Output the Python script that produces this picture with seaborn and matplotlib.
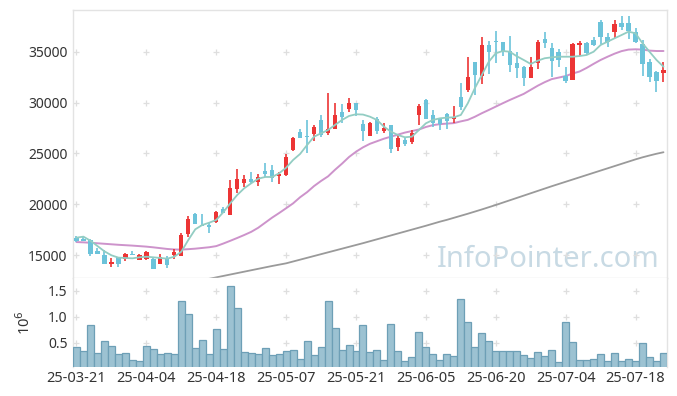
import numpy as np
import pandas as pd
import matplotlib
matplotlib.use("Agg")
import matplotlib.pyplot as plt
import seaborn as sns

# trading days 25-03-21 .. 25-07-24 (KRX holidays removed)
holidays = ["2025-05-01", "2025-05-05", "2025-05-06", "2025-06-03", "2025-06-06"]
dates = [d for d in pd.bdate_range("2025-03-21", "2025-07-24") if d.strftime("%Y-%m-%d") not in holidays]

opens = [16730, 16630, 16500, 15420, 15000, 14175, 14800, 14670, 15130, 14570,
         14670, 14670, 14175, 14670, 15030, 14960, 17120, 19050, 17980, 17950,
         18300, 19550, 18990, 21540, 22130, 22490, 22230, 23310, 23380, 22790,
         22880, 25370, 27110, 26720, 26940, 28290, 27040, 27430, 29070, 29370,
         29990, 27920, 26750, 28380, 27240, 27770, 25660, 26320, 26150, 28800,
         30250, 28750, 28410, 28850, 28410, 30560, 31230, 33980, 32640, 35680,
         36080, 35920, 35030, 33880, 33490, 32440, 33850, 36240, 35360, 34960,
         32640, 32250, 35680, 35850, 36140, 37910, 36440, 36900, 37780, 37780,
         36900, 35750, 33980, 33000, 32930]
highs = [16895, 16925, 16600, 15690, 15490, 14705, 14820, 15255, 15420, 15130,
         15420, 14800, 15160, 14900, 15620, 17220, 18860, 19180, 19050, 18140,
         19350, 19770, 22390, 23450, 22890, 23150, 22950, 24060, 23900, 23150,
         24950, 26650, 27370, 28290, 27800, 28800, 30910, 29930, 29860, 30420,
         30000, 28260, 28050, 28610, 28030, 27800, 26820, 26580, 27340, 29860,
         30350, 29270, 28450, 28950, 29660, 31920, 34440, 34000, 36410, 36000,
         37030, 35950, 36540, 34960, 33550, 34500, 36140, 36900, 35820, 35300,
         33520, 35880, 36040, 35900, 36470, 38110, 36800, 38110, 38500, 38500,
         37300, 36100, 34300, 33050, 33950]
lows = [16335, 16430, 14930, 15100, 14170, 13820, 13880, 14470, 14990, 14500,
        14570, 13680, 14170, 13780, 14670, 14950, 16800, 18050, 17880, 17160,
        18200, 19150, 18950, 21090, 21750, 22000, 21850, 22720, 22200, 22030,
        22800, 25250, 26500, 25080, 26200, 26650, 26810, 27400, 28020, 29100,
        28680, 26250, 26700, 26880, 26970, 25020, 25220, 25730, 25900, 27830,
        28400, 27570, 27300, 27400, 27960, 29270, 31010, 30710, 31790, 32800,
        33850, 34540, 32970, 32380, 31630, 32400, 33300, 35330, 32510, 33520,
        31890, 32200, 34570, 34670, 35600, 35750, 35500, 36310, 37140, 36240,
        35800, 32610, 31990, 31010, 31990]
closes = [16430, 16430, 15130, 15160, 14180, 14340, 14175, 15130, 15000, 15000,
          15320, 13690, 14800, 14050, 15320, 16960, 18560, 18100, 17880, 17750,
          19250, 19180, 21610, 22490, 22490, 22230, 22660, 22980, 22620, 22980,
          24650, 26520, 26550, 26620, 27600, 26810, 27400, 28800, 28580, 29960,
          29300, 27200, 28000, 27240, 27500, 25470, 26520, 25960, 27010, 29660,
          28410, 28020, 27920, 28220, 28540, 29560, 32510, 32700, 35650, 34960,
          35950, 34940, 33720, 33420, 32440, 33490, 35950, 35850, 34110, 34170,
          32150, 35750, 35850, 34900, 35680, 36410, 35920, 37720, 37450, 37030,
          35980, 33760, 32540, 32150, 33160]

# volume in millions
volume = [0.42, 0.34, 0.84, 0.30, 0.53, 0.44, 0.28, 0.30, 0.17, 0.15,
          0.44, 0.38, 0.28, 0.30, 0.28, 1.30, 1.05, 0.40, 0.55, 0.28,
          0.76, 0.38, 1.59, 1.17, 0.32, 0.30, 0.28, 0.40, 0.26, 0.28,
          0.34, 0.36, 0.19, 0.53, 0.26, 0.42, 1.30, 0.78, 0.365, 0.455,
          0.346, 0.846, 0.327, 0.365, 0.173, 0.865, 0.346, 0.154, 0.224, 0.71,
          0.417, 0.28, 0.173, 0.28, 0.25, 1.34, 0.897, 0.417, 0.686, 0.53,
          0.346, 0.346, 0.346, 0.346, 0.263, 0.205, 0.327, 0.25, 0.365, 0.128,
          0.897, 0.52, 0.173, 0.173, 0.186, 0.28, 0.154, 0.31, 0.154, 0.186,
          0.154, 0.50, 0.224, 0.154, 0.31]

ma5 = [16730, 16830, 16430, 15910, 15390, 15000, 14770, 14735, 14700, 14800,
       14860, 14800, 14735, 14670, 14860, 15350, 16500, 17550, 17975, 18200,
       18470, 19220, 20100, 20920, 21580, 22070, 22520, 22690, 22690, 23050,
       23600, 24360, 24950, 25830, 26650, 26980, 27300, 27800, 28290, 28680,
       28850, 28820, 28610, 28290, 27630, 27140, 26810, 26590, 26650, 27300,
       27960, 28290, 28450, 28520, 28550, 28780, 29930, 31400, 32700, 34010,
       34840, 35060, 34990, 34550, 34180, 33790, 34110, 34350, 34440, 34500,
       34500, 34500, 34570, 34670, 34990, 35650, 35980, 36310, 36630, 36960,
       36800, 35820, 34990, 34180, 33520]
ma20 = [16300, 16270, 16230, 16180, 16130, 16080, 16030, 15990, 15950, 15900,
        15850, 15780, 15700, 15620, 15570, 15560, 15600, 15650, 15720, 15790,
        15900, 16150, 16420, 16700, 16990, 17300, 17700, 18200, 18700, 19150,
        19620, 20100, 20700, 21200, 21800, 22300, 22750, 23400, 24000, 24650,
        25170, 25600, 25950, 26200, 26450, 26650, 26850, 27050, 27200, 27350,
        27600, 27780, 27880, 27930, 27980, 28150, 28300, 28600, 28950, 29270,
        29600, 29930, 30250, 30550, 30850, 31250, 31650, 32000, 32300, 32450,
        32600, 32850, 33050, 33400, 33800, 34180, 34500, 34800, 35050, 35200,
        35230, 35200, 35100, 35060, 35060]
ma120 = [None] * 18 + [
        12550, 12690, 12830, 12970, 13110, 13250, 13390, 13530, 13670, 13810,
        13950, 14080, 14210, 14390, 14570, 14750, 14930, 15110, 15290, 15470,
        15650, 15830, 16010, 16190, 16380, 16570, 16760, 16950, 17140, 17330,
        17520, 17710, 17900, 18100, 18300, 18480, 18680, 18880, 19080, 19290,
        19500, 19720, 19940, 20170, 20400, 20630, 20860, 21090, 21320, 21550,
        21780, 22000, 22220, 22440, 22660, 22880, 23100, 23320, 23540, 23760,
        23980, 24200, 24420, 24620, 24800, 24970, 25120]

df = pd.DataFrame({"date": dates, "open": opens, "high": highs, "low": lows,
                   "close": closes, "volume": volume,
                   "ma5": ma5, "ma20": ma20, "ma120": pd.array(ma120, dtype="Float64").astype(float)})
df["idx"] = np.arange(len(df))

sns.set_theme(style="white")
plt.rcParams["font.family"] = ["Noto Sans", "DejaVu Sans"]

UP = "#ec3535"
DOWN = "#6cc3da"
GRID = "#dedede"
FRAME = "#e3e3e3"

fig = plt.figure(figsize=(6.77, 3.96), dpi=100)
ax = fig.add_axes([0.1078, 0.298, 0.8774, 0.6768])
ax2 = fig.add_axes([0.1078, 0.074, 0.8774, 0.224], sharex=ax)

# candles
up = df["close"] >= df["open"]
colors = np.where(up, UP, DOWN)
ax.vlines(df["idx"], df["low"], df["high"], colors=colors, linewidth=1.2, zorder=3)
body_lo = np.minimum(df["open"], df["close"])
body_h = np.maximum(np.abs(df["close"] - df["open"]), 60)
ax.bar(df["idx"], body_h, bottom=body_lo, width=0.62, color=colors, linewidth=0, zorder=4)

# moving averages
sns.lineplot(data=df, x="idx", y="ma5", ax=ax, color="#93cdc3", linewidth=1.3, zorder=5)
sns.lineplot(data=df, x="idx", y="ma20", ax=ax, color="#cd93cb", linewidth=1.4, zorder=2)
sns.lineplot(data=df.dropna(subset=["ma120"]), x="idx", y="ma120", ax=ax, color="#9a9a9a",
             linewidth=1.3, zorder=2)

# volume bars
sns.barplot(data=df, x="idx", y="volume", ax=ax2, color="#9cc2d2", edgecolor="#6d9fb6",
            linewidth=0.9, width=1.0, saturation=1, zorder=3)

xticks = list(range(0, len(df), 10))
price_ticks = [15000, 20000, 25000, 30000, 35000]
vol_ticks = [0.5, 1.0, 1.5]

# '+' grid marks
for a, yt in ((ax, price_ticks), (ax2, vol_ticks)):
    gx, gy = np.meshgrid(xticks, yt)
    a.plot(gx.ravel(), gy.ravel(), linestyle="none", marker="+", markersize=5,
           markeredgewidth=0.9, color=GRID, zorder=1)

ax.set_xlim(-0.5, len(df) - 0.5)
ax.set_ylim(12770, 39090)
ax2.set_ylim(0.045, 1.745)

ax.set_yticks(price_ticks)
ax.set_yticklabels([str(t) for t in price_ticks])
ax2.set_yticks(vol_ticks)
ax2.set_yticklabels(["0.5", "1.0", "1.5"])
ax2.set_xticks(xticks)
ax2.set_xticklabels([df["date"][i].strftime("%y-%m-%d") for i in xticks])
ax.tick_params(axis="x", labelbottom=False)

for a in (ax, ax2):
    a.set_xlabel("")
    a.set_ylabel("")
    a.tick_params(length=0, labelsize=10, colors="#333333", pad=4)
    for s in a.spines.values():
        s.set_color(FRAME)
        s.set_linewidth(1)
ax2.tick_params(axis="x", labelsize=10.5, pad=3)
ax2.spines["top"].set_visible(False)
ax2.spines["bottom"].set_visible(False)

ax2.set_ylabel("10$^6$", fontsize=10.5, color="#333333", labelpad=10)

ax.text(0.988, 0.04, "InfoPointer.com", transform=ax.transAxes, ha="right", va="baseline",
        fontsize=21, color="#c8dae4", zorder=0)

fig.savefig("out.png", dpi=100)
plt.close()
